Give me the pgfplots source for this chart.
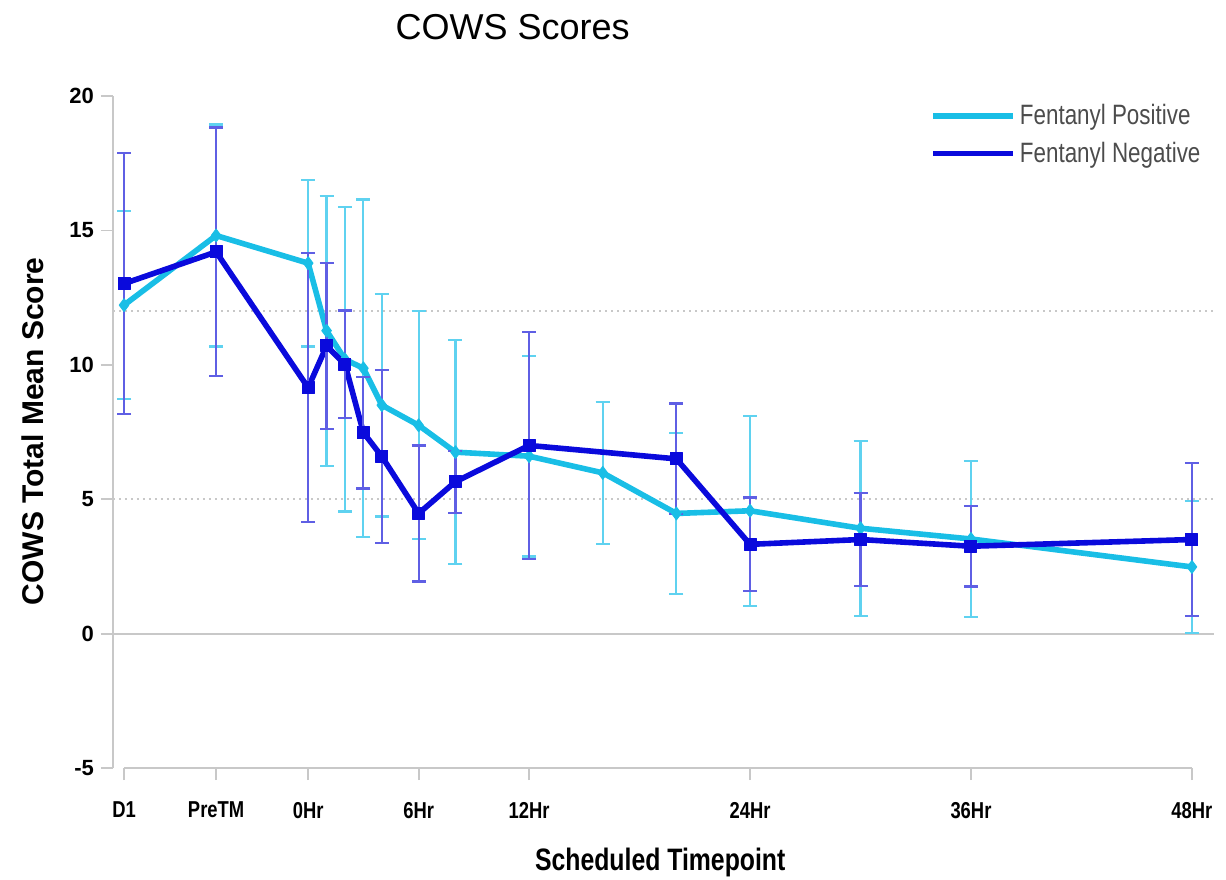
\documentclass[border=0pt]{standalone}
\usepackage{pgfplots}
\usepackage{pgfplotstable}
\pgfplotsset{compat=1.18}
\usepackage{fontspec}
\setmainfont{Liberation Sans}
\newfontfamily\cond[FakeStretch=0.8]{Liberation Sans}

\definecolor{cpos}{RGB}{25,190,230}
\definecolor{cposerr}{RGB}{95,210,240}
\definecolor{cneg}{RGB}{10,10,220}
\definecolor{cnegerr}{RGB}{95,95,228}
\definecolor{axgray}{RGB}{200,200,200}

% x: hours from first dose (D1 = -10, PreTM = -5)
\pgfplotstableread{
x    y      e
-10  12.22  3.50
-5   14.81  4.13
0    13.78  3.10
1    11.27  5.02
2    10.20  5.66
3    9.87   6.28
4    8.50   4.14
6    7.75   4.24
8    6.75   4.17
12   6.60   3.73
16   5.98   2.65
20   4.47   3.00
24   4.57   3.53
30   3.92   3.26
36   3.52   2.90
48   2.48   2.45
}\positive

\pgfplotstableread{
x    y      e
-10  13.02  4.86
-5   14.20  4.63
0    9.15   5.00
1    10.70  3.10
2    10.02  2.00
3    7.48   2.08
4    6.59   3.23
6    4.47   2.53
8    5.65   1.15
12   7.00   4.22
20   6.50   2.06
24   3.32   1.74
30   3.50   1.73
36   3.25   1.50
48   3.50   2.85
}\negative

\begin{document}
\begin{tikzpicture}
\useasboundingbox (-56.5pt,-55.5pt) rectangle (556.5pt,384pt);
\begin{axis}[
  at={(0pt,0pt)}, anchor=south west,
  scale only axis,
  width=550.5pt, height=336pt,
  xmin=-10.6, xmax=49.2,
  ymin=-5, ymax=20,
  axis x line=bottom, axis y line=left,
  x axis line style={draw=none,-},
  y axis line style={axgray, line width=1pt, -},
  xtick={-10,-5,0,6,12,24,36,48},
  xticklabels={D1,PreTM,0Hr,6Hr,12Hr,24Hr,36Hr,48Hr},
  ytick={-5,0,5,10,15,20},
  tick style={axgray, line width=0.9pt},
  major tick length=6pt,
  xtick align=outside, ytick align=outside,
  /pgf/number format/assume math mode=true,
  xticklabel style={font=\cond\bfseries\fontsize{11.5}{13}\selectfont, yshift=-7.5pt},
  yticklabel style={font=\bfseries\fontsize{11}{13}\selectfont},
  title={COWS Scores},
  title style={at={(0.363,1.085)}, anchor=center, font=\fontsize{18}{21}\selectfont},
  ylabel={COWS Total Mean Score},
  ylabel style={at={(axis description cs:-0.0727,0.501)}, anchor=center, font=\bfseries\fontsize{15}{18}\selectfont},
  xlabel={Scheduled Timepoint},
  xlabel style={at={(axis description cs:0.497,-0.140)}, anchor=center, font=\cond\bfseries\fontsize{15.5}{18}\selectfont},
  legend style={draw=none, fill=none, at={(0.742,0.994)}, anchor=north west,
    font=\cond\fontsize{14}{16}\selectfont, text=black!70, row sep=3pt, inner sep=0pt},
  legend cell align=left,
  legend image code/.code={\draw[#1, mark=none] (0pt,0pt) -- (40pt,0pt);},
  clip=false,
]
\draw[axgray, line width=1pt] (axis cs:-10,-5) -- (axis cs:48,-5);
\draw[axgray, line width=1pt] (axis cs:-10.6,0) -- (axis cs:49.2,0);
\draw[axgray, line width=1pt, dotted] (axis cs:-10.6,12) -- (axis cs:49.2,12);
\draw[axgray, line width=1pt, dotted] (axis cs:-10.6,5) -- (axis cs:49.2,5);

\addplot[cpos, line width=2.8pt, line join=round, mark=diamond*, mark size=3.2pt,
  mark options={solid, fill=cpos, line width=0.5pt},
  error bars/.cd, y dir=both, y explicit,
  error bar style={line width=1.1pt, cposerr},
  error mark options={rotate=90, mark size=3.5pt, line width=1.1pt, cposerr}]
  table[x=x, y=y, y error=e] {\positive};
\addlegendentry{Fentanyl Positive}

\addplot[cneg, line width=2.8pt, line join=round, mark=square*, mark size=3pt,
  mark options={solid, fill=cneg, line width=0.5pt},
  error bars/.cd, y dir=both, y explicit,
  error bar style={line width=1.1pt, cnegerr},
  error mark options={rotate=90, mark size=3.5pt, line width=1.1pt, cnegerr}]
  table[x=x, y=y, y error=e] {\negative};
\addlegendentry{Fentanyl Negative}
\end{axis}
\end{tikzpicture}
\end{document}
